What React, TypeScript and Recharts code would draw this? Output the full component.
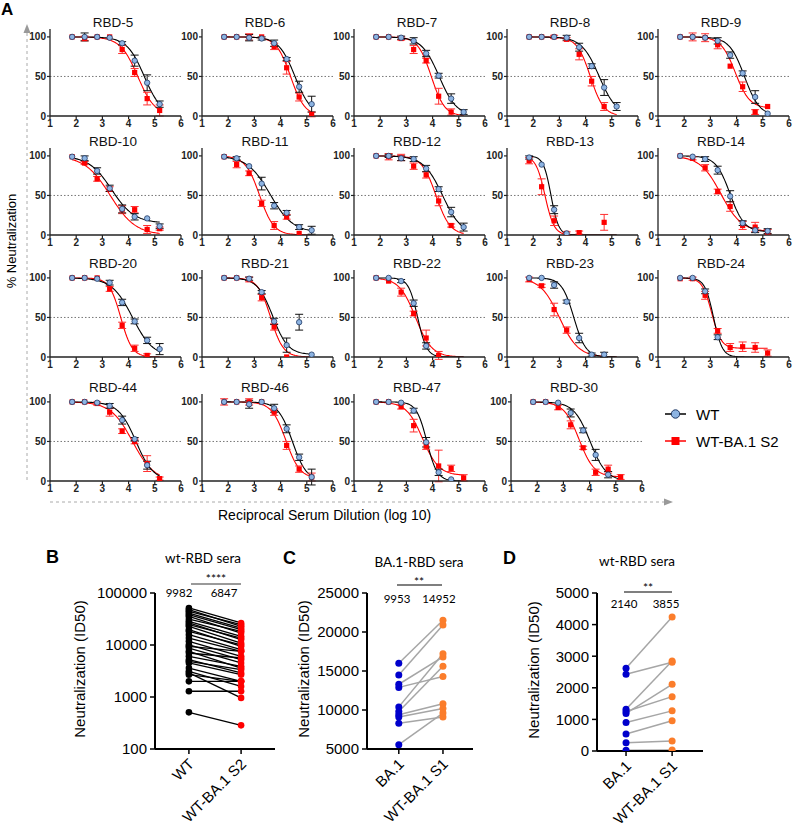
import React from 'react';
import { ComposedChart, Line, Scatter, XAxis, YAxis, ReferenceLine, ErrorBar } from 'recharts';

// ---------- Panel A data ----------
const doses = [1.845, 2.322, 2.799, 3.277, 3.754, 4.231, 4.708, 5.185];
const panelNames = ['RBD-5', 'RBD-6', 'RBD-7', 'RBD-8', 'RBD-9', 'RBD-10', 'RBD-11', 'RBD-12', 'RBD-13', 'RBD-14',
  'RBD-20', 'RBD-21', 'RBD-22', 'RBD-23', 'RBD-24', 'RBD-44', 'RBD-46', 'RBD-47', 'RBD-30'];

const wtValues: (number | null)[][] = [
  [100, 100, 100, 99, 92, 70, 42, 15],
  [100, 100, 99, 98, 92, 72, 37, 15],
  [100, 100, 99, 95, 79, 51, 22, 5],
  [100, 100, 100, 99, 87, 63, 36, 12],
  [100, 100, 99, 95, 77, 54, 24, 3],
  [99, 97, 81, 59, 33, 23, 21, 11],
  [99, 97, 87, 65, 37, 28, 10, 6],
  [100, 100, 97, 96, 84, 58, 29, 10],
  [98, 89, 32, 2, null, null, null, null],
  [100, 99, 96, 82, 49, 15, 6, 5],
  [100, 100, 99, 94, 69, 45, 21, 10],
  [100, 100, 99, 82, 45, 15, 44, 3],
  [100, 100, 96, 68, 14, null, null, null],
  [100, 100, 91, 70, 24, 3, 3, null],
  [100, 100, 83, 25, null, null, null, null],
  [100, 100, 99, 95, 77, 53, 20, null],
  [100, 100, 97, 100, 92, 66, 30, 5],
  [100, 100, 99, 89, 49, 11, 2, null],
  [100, 100, 99, 86, 64, 33, 8, null],
];
const s2Values: (number | null)[][] = [
  [100, 98, 100, 100, 84, 55, 22, 7],
  [100, 100, 100, 100, 88, 61, 24, 2],
  [100, 100, 98, 84, 70, 25, 5, null],
  [100, 100, 100, 97, 78, 44, 12, null],
  [100, 100, 99, 90, 63, 37, 5, 12],
  [99, 91, 71, 58, 32, 32, 7, 8],
  [99, 89, 78, 40, 12, 23, 2, null],
  [100, 99, 98, 87, 76, 43, 12, null],
  [94, 61, 18, 2, 3, null, 16, null],
  [100, 97, 85, 55, 36, 12, 10, 4],
  [100, 100, 100, 86, 40, 11, 2, null],
  [100, 100, 98, 75, 38, 0, null, null],
  [100, 96, 82, 55, 24, 2, null, null],
  [98, 90, 60, 34, null, null, null, null],
  [99, 99, 78, 33, 12, 13, 12, 5],
  [100, 100, 98, 87, 63, 50, 22, 3],
  [100, 100, 100, 100, 87, 45, 15, 5],
  [100, 100, 94, 70, 44, 19, 16, 4],
  [100, 100, 93, 71, 42, 11, 15, 5],
];
const wtErrors: number[][] = [
  [0, 5, 0, 0, 2, 7, 10, 4], [0, 0, 4, 2, 4, 2, 7, 10], [0, 0, 2, 4, 4, 3, 6, 3], [0, 0, 0, 3, 5, 3, 10, 5],
  [0, 0, 0, 4, 4, 3, 8, 0], [0, 3, 4, 4, 5, 4, 0, 3], [0, 2, 0, 8, 4, 3, 3, 5], [0, 2, 3, 3, 4, 3, 6, 5],
  [2, 0, 5, 0, 0, 0, 0, 0], [0, 0, 3, 5, 7, 3, 3, 3], [0, 0, 0, 3, 4, 3, 4, 7], [0, 0, 2, 2, 4, 9, 10, 0],
  [0, 0, 2, 4, 4, 0, 0, 0], [0, 0, 4, 2, 6, 2, 3, 0], [0, 0, 3, 3, 0, 0, 0, 0], [0, 0, 0, 3, 5, 2, 5, 0],
  [0, 0, 5, 0, 5, 5, 4, 10], [0, 0, 0, 3, 6, 4, 0, 0], [0, 0, 0, 5, 3, 7, 4, 0],
];
const s2Errors: number[][] = [
  [0, 3, 0, 0, 5, 5, 8, 7], [0, 0, 4, 0, 4, 8, 5, 3], [0, 0, 2, 5, 3, 10, 4, 0], [0, 0, 2, 2, 7, 6, 5, 0],
  [0, 5, 5, 5, 0, 6, 3, 0], [0, 2, 3, 3, 5, 4, 5, 2], [0, 4, 3, 4, 5, 3, 0, 0], [0, 4, 4, 4, 4, 6, 2, 0],
  [4, 10, 6, 2, 2, 0, 10, 0], [0, 2, 4, 3, 6, 5, 6, 3], [0, 0, 0, 3, 4, 4, 2, 0], [0, 0, 3, 4, 4, 0, 0, 0],
  [0, 0, 5, 3, 10, 5, 0, 0], [3, 2, 8, 4, 0, 0, 0, 0], [0, 2, 5, 3, 5, 6, 6, 4], [0, 0, 2, 5, 3, 3, 10, 2],
  [4, 0, 4, 0, 4, 5, 4, 5], [0, 0, 3, 8, 4, 20, 4, 4], [0, 0, 3, 5, 2, 4, 5, 3],
];
// fitted curve parameters: [logIC50, hill slope, bottom]
const wtFits: number[][] = [
  [4.6, 1.3, 0], [4.55, 1.4, 0], [4.25, 1.3, 0], [4.52, 1.3, 0], [4.3, 1.5, 0], [3.35, 1.0, 15], [3.6, 1.0, 3],
  [4.38, 1.2, 0], [2.68, 3, 0], [3.75, 1.6, 4], [4.15, 1.1, 0], [3.7, 1.5, 3], [3.43, 2.5, 0], [3.55, 1.9, 0],
  [3.12, 2.6, 0], [4.28, 1.3, 0], [4.45, 1.6, 0], [3.78, 2.2, 0], [4.02, 1.4, 0],
];
const s2Fits: number[][] = [
  [4.35, 1.3, 0], [4.38, 1.6, 0], [3.95, 1.7, 0], [4.18, 1.7, 0], [3.95, 1.6, 10], [3.3, 0.9, 0], [3.2, 1.6, 0],
  [4.13, 1.6, 0], [2.45, 2.5, 0], [3.4, 1.1, 4], [3.7, 2.0, 0], [3.62, 1.8, 0], [3.35, 1.4, 0], [3.0, 1.2, 0],
  [3.05, 2.4, 11], [4.15, 1.05, 0], [4.2, 1.6, 3], [3.62, 1.4, 7], [3.6, 1.5, 5],
];
const xTicksA = [1, 2, 3, 4, 5, 6];
const yTicksA = [0, 50, 100];
const legendLabels = ['WT', 'WT-BA.1 S2'];

// ---------- Panel B/C/D data ----------
const bWT = [51500, 47800, 44400, 41200, 38300, 35600, 31600, 28500, 26500, 24600, 22900, 19700, 18300, 15800, 13600, 11800,
  10100, 9420, 8750, 7550, 7020, 6050, 5220, 4850, 4510, 3610, 3120, 2690, 2000, 1290, 2900, 507];
const bS2 = [26500, 22900, 24600, 21200, 19700, 17000, 18300, 14700, 12700, 13600, 10900, 9420, 10100, 8130, 7550, 6050,
  5220, 7550, 4510, 3610, 5620, 3890, 2900, 3360, 2690, 2000, 1600, 2000, 2000, 1290, 960, 285];
const cBA1 = [16000, 14500, 13300, 12900, 10400, 9800, 9400, 9100, 8300, 5550];
const cS1 = [21500, 20900, 16800, 14300, 17200, 15600, 10800, 10200, 9100, 9600];
const dBA1 = [2620, 2430, 1320, 1250, 1190, 900, 540, 265, 20];
const dS1 = [4240, 2810, 2850, 1720, 2110, 1270, 960, 320, 30];
const bLabels = ['WT', 'WT-BA.1 S2'];
const cdLabels = ['BA.1', 'WT-BA.1 S1'];
const bTicks = [100, 1000, 10000, 100000];
const cTicks = [5000, 10000, 15000, 20000, 25000];
const dTicks = [0, 1000, 2000, 3000, 4000, 5000];
const bMeans = ['9982', '6847'];
const cMeans = ['9953', '14952'];
const dMeans = ['2140', '3855'];

const ARIAL = "'Liberation Sans', Arial, sans-serif";
const CAL = "Lato, 'Open Sans', sans-serif";

const colLefts = [50, 202, 354, 507, 658];
const rowBottoms = [116, 235, 357, 481];
const PW = 131;
const PH = 87;

function panelLeft(i: number) {
  const c = i % 5;
  return i === 18 ? 511 : colLefts[c];
}
function panelBottom(i: number) {
  return rowBottoms[Math.floor(i / 5)];
}

function fitCurve(p: number[]) {
  const [ic50, hill, bottom] = p;
  const pts: { x: number; y: number }[] = [];
  const n = 80;
  for (let k = 0; k <= n; k++) {
    const x = doses[0] + ((doses[doses.length - 1] - doses[0]) * k) / n;
    pts.push({ x, y: bottom + (100 - bottom) / (1 + Math.pow(10, (x - ic50) * hill)) });
  }
  return pts;
}

function pointsOf(vals: (number | null)[], errs: number[]) {
  const out: { x: number; y: number; e: number }[] = [];
  vals.forEach((v, k) => {
    if (v !== null) out.push({ x: doses[k], y: v, e: errs[k] });
  });
  return out;
}

const CircleShape = (props: any) => (
  <circle cx={props.cx} cy={props.cy} r={2.7} fill="#8db4e2" stroke="#1f3864" strokeWidth={0.8} />
);
const SquareShape = (props: any) => (
  <rect x={props.cx - 2.6} y={props.cy - 2.6} width={5.2} height={5.2} fill="#ff0000" />
);

function DosePanel({ i }: { i: number }) {
  const ML = 40, MR = 4, MT = 4, MB = 20;
  const left = panelLeft(i);
  const bottom = panelBottom(i);
  const wtPts = pointsOf(wtValues[i], wtErrors[i]);
  const s2Pts = pointsOf(s2Values[i], s2Errors[i]);
  return (
    <div style={{ position: 'absolute', left: left - ML, top: bottom - PH - MT }}>
      <ComposedChart width={ML + PW + MR} height={MT + PH + MB} margin={{ top: MT, right: MR, left: 0, bottom: 0 }}>
        <XAxis type="number" dataKey="x" domain={[1, 6]} ticks={xTicksA} allowDataOverflow height={MB}
          tickSize={3} tickMargin={1} interval={0}
          axisLine={{ stroke: '#222', strokeWidth: 1.3 }} tickLine={{ stroke: '#222', strokeWidth: 1.2 }}
          tick={{ fontSize: 10, fontWeight: 'bold', fill: '#222', fontFamily: ARIAL }} />
        <YAxis type="number" dataKey="y" domain={[0, 110]} ticks={yTicksA} allowDataOverflow width={ML}
          tickSize={3} tickMargin={1} interval={0}
          axisLine={{ stroke: '#222', strokeWidth: 1.3 }} tickLine={{ stroke: '#222', strokeWidth: 1.2 }}
          tick={{ fontSize: 10, fontWeight: 'bold', fill: '#222', fontFamily: ARIAL }} />
        <ReferenceLine y={50} stroke="#777" strokeWidth={1} strokeDasharray="1.5 2" />
        <Line data={fitCurve(s2Fits[i])} dataKey="y" stroke="#ff0000" strokeWidth={1.1} dot={false} isAnimationActive={false} />
        <Line data={fitCurve(wtFits[i])} dataKey="y" stroke="#000" strokeWidth={1.1} dot={false} isAnimationActive={false} />
        <Scatter data={s2Pts} shape={SquareShape} isAnimationActive={false}>
          <ErrorBar dataKey="e" direction="y" width={4} stroke="#ff3030" strokeWidth={1} />
        </Scatter>
        <Scatter data={wtPts} shape={CircleShape} isAnimationActive={false}>
          <ErrorBar dataKey="e" direction="y" width={4} stroke="#111" strokeWidth={1} />
        </Scatter>
      </ComposedChart>
    </div>
  );
}

function RotTick(props: any) {
  const { x, y, payload, labels } = props;
  const px = x + 6;
  const py = y + 9;
  return (
    <text x={px} y={py} transform={`rotate(-45 ${px} ${py})`} textAnchor="end" fontSize={15}
      fontFamily={ARIAL} fill="#000">{labels[payload.value]}</text>
  );
}

function PairPanel(props: any) {
  const { plotLeft, plotTop, plotW, plotH, xDomain, yDomain, yTicks, logScale, left, right,
    leftColor, rightColor, lineColor, lineWidth, labels, r } = props;
  const ML = 80, MR = 10, MT = 10;
  const MB = 831 - plotTop - plotH;
  const leftPts = left.map((v: number) => ({ x: 0, y: v }));
  const rightPts = right.map((v: number) => ({ x: 1, y: v }));
  const LeftShape = (p: any) => <circle cx={p.cx} cy={p.cy} r={r} fill={leftColor} />;
  const RightShape = (p: any) => <circle cx={p.cx} cy={p.cy} r={r} fill={rightColor} />;
  return (
    <div style={{ position: 'absolute', left: plotLeft - ML, top: plotTop - MT }}>
      <ComposedChart width={ML + plotW + MR} height={MT + plotH + MB} margin={{ top: MT, right: MR, left: 0, bottom: 0 }}
        style={{ overflow: 'visible' }}>
        <XAxis type="number" dataKey="x" domain={xDomain} ticks={[0, 1]} allowDataOverflow height={MB}
          tickSize={5} interval={0} axisLine={{ stroke: '#000', strokeWidth: 2 }} tickLine={{ stroke: '#000', strokeWidth: 1.5 }}
          tick={(tp: any) => <RotTick {...tp} labels={labels} />} />
        <YAxis type="number" dataKey="y" scale={logScale ? 'log' : 'linear'} domain={yDomain} ticks={yTicks}
          allowDataOverflow width={ML} tickSize={5} tickMargin={3} interval={0}
          axisLine={{ stroke: '#000', strokeWidth: 2 }} tickLine={{ stroke: '#000', strokeWidth: 1.5 }}
          tick={{ fontSize: 15, fill: '#000', fontFamily: ARIAL }} />
        {left.map((v: number, k: number) => (
          <Line key={k} data={[{ x: 0, y: v }, { x: 1, y: right[k] }]} dataKey="y" stroke={lineColor}
            strokeWidth={lineWidth} dot={false} isAnimationActive={false} />
        ))}
        <Scatter data={leftPts} shape={LeftShape} isAnimationActive={false} />
        <Scatter data={rightPts} shape={RightShape} isAnimationActive={false} />
      </ComposedChart>
    </div>
  );
}

function Overlay() {
  return (
    <svg width={795} height={832} style={{ position: 'absolute', left: 0, top: 0, pointerEvents: 'none' }}
      fontFamily={ARIAL}>
      <text x={1} y={15} fontSize={17} fontWeight="bold">A</text>
      {panelNames.map((n, i) => (
        <text key={n} x={panelLeft(i) + 63} y={panelBottom(i) - PH - 2} textAnchor="middle" fontSize={13.5} fill="#111">{n}</text>
      ))}
      {/* axis arrows */}
      <line x1={27} y1={480} x2={27} y2={32} stroke="#aaa" strokeWidth={1} strokeDasharray="3 3" />
      <polygon points="27,24 23.5,33 30.5,33" fill="#999" />
      <line x1={50} y1={502} x2={664} y2={502} stroke="#aaa" strokeWidth={1} strokeDasharray="3 3" />
      <polygon points="673,502 664,498.5 664,505.5" fill="#999" />
      <text x={13} y={241} transform="rotate(-90 13 241)" textAnchor="middle" dominantBaseline="middle" fontSize={13}>% Neutralization</text>
      <text x={218} y={520} fontSize={14}>Reciprocal Serum Dilution (log 10)</text>
      {/* legend */}
      <line x1={665} y1={414} x2={686} y2={414} stroke="#000" strokeWidth={1.5} />
      <circle cx={675.5} cy={414} r={4.2} fill="#8db4e2" stroke="#1f3864" strokeWidth={1} />
      <text x={696} y={419.5} fontSize={15}>{legendLabels[0]}</text>
      <line x1={665} y1={441} x2={686} y2={441} stroke="#ff0000" strokeWidth={1.5} />
      <rect x={671.5} y={437} width={8} height={8} fill="#ff0000" />
      <text x={696} y={446.5} fontSize={15}>{legendLabels[1]}</text>

      {/* B */}
      <text x={46} y={563} fontSize={18} fontWeight="bold">B</text>
      <text x={203} y={563} textAnchor="middle" fontSize={13.5} fontFamily={CAL}>wt-RBD sera</text>
      <line x1={191} y1={584} x2={241} y2={584} stroke="#777" strokeWidth={1.3} />
      <text x={216} y={583} textAnchor="middle" fontSize={12} fontFamily={CAL}>****</text>
      <text x={179} y={597} textAnchor="middle" fontSize={11.5} fontFamily={CAL}>{bMeans[0]}</text>
      <text x={224} y={597} textAnchor="middle" fontSize={11.5} fontFamily={CAL}>{bMeans[1]}</text>
      <text x={81} y={669} transform="rotate(-90 81 669)" textAnchor="middle" dominantBaseline="middle" fontSize={15}>Neutralization (ID50)</text>

      {/* C */}
      <text x={283} y={564} fontSize={18} fontWeight="bold">C</text>
      <text x={419} y={567} textAnchor="middle" fontSize={13.5} fontFamily={CAL}>BA.1-RBD sera</text>
      <line x1={397} y1={585} x2={442} y2={585} stroke="#000" strokeWidth={1.2} />
      <text x={419} y={586} textAnchor="middle" fontSize={12} fontFamily={CAL}>**</text>
      <text x={397} y={603} textAnchor="middle" fontSize={11.5} fontFamily={CAL}>{cMeans[0]}</text>
      <text x={439} y={603} textAnchor="middle" fontSize={11.5} fontFamily={CAL}>{cMeans[1]}</text>
      <text x={305} y={669} transform="rotate(-90 305 669)" textAnchor="middle" dominantBaseline="middle" fontSize={15}>Neutralization (ID50)</text>

      {/* D */}
      <text x={503} y={564} fontSize={18} fontWeight="bold">D</text>
      <text x={637} y={566} textAnchor="middle" fontSize={13.5} fontFamily={CAL}>wt-RBD sera</text>
      <line x1={624} y1={592} x2={672} y2={592} stroke="#000" strokeWidth={1.2} />
      <text x={648} y={592} textAnchor="middle" fontSize={12} fontFamily={CAL}>**</text>
      <text x={624} y={608} textAnchor="middle" fontSize={11.5} fontFamily={CAL}>{dMeans[0]}</text>
      <text x={666} y={608} textAnchor="middle" fontSize={11.5} fontFamily={CAL}>{dMeans[1]}</text>
      <text x={535} y={670} transform="rotate(-90 535 670)" textAnchor="middle" dominantBaseline="middle" fontSize={15}>Neutralization (ID50)</text>
    </svg>
  );
}

export default function App() {
  return (
    <div style={{ position: 'absolute', left: 0, top: 0, width: 795, height: 832, background: '#fff', fontFamily: ARIAL, overflow: 'hidden' }}>
      {panelNames.map((n, i) => <DosePanel key={n} i={i} />)}
      <PairPanel plotLeft={155} plotTop={593} plotW={120} plotH={156} xDomain={[-0.65, 1.65]} yDomain={[100, 100000]}
        yTicks={bTicks} logScale left={bWT} right={bS2} leftColor="#000" rightColor="#ff0000" lineColor="#000"
        lineWidth={1.3} labels={bLabels} r={3.3} />
      <PairPanel plotLeft={367} plotTop={593} plotW={106} plotH={156} xDomain={[-0.72, 1.68]} yDomain={[5000, 25000]}
        yTicks={cTicks} left={cBA1} right={cS1} leftColor="#0000cc" rightColor="#fb7d2b" lineColor="#a6a6a6"
        lineWidth={1.5} labels={cdLabels} r={3.5} />
      <PairPanel plotLeft={597} plotTop={593} plotW={106} plotH={158} xDomain={[-0.63, 1.67]} yDomain={[0, 5000]}
        yTicks={dTicks} left={dBA1} right={dS1} leftColor="#0000cc" rightColor="#fb7d2b" lineColor="#a6a6a6"
        lineWidth={1.5} labels={cdLabels} r={3.5} />
      <Overlay />
    </div>
  );
}
